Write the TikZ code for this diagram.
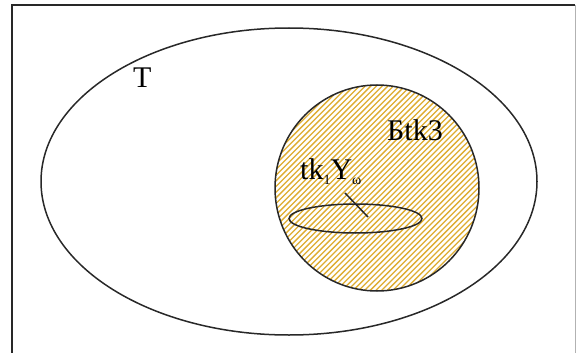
\documentclass[tikz,border=0pt]{standalone}
\usepackage{fontspec}
\setmainfont{Liberation Serif}
\definecolor{outline}{RGB}{40,40,40}
\definecolor{hatchgold}{RGB}{222,172,48}
\tikzset{
  shape line/.style={draw=outline, line width=1.5pt},
  label text/.style={inner sep=0pt, anchor=base west, font=\fontsize{30}{36}\selectfont, text=black},
  hatch line/.style={draw=hatchgold, line width=1.3pt},
}
\newcommand{\subtxt}[1]{\raisebox{-5pt}{\fontsize{14}{16}\selectfont #1}}
\begin{document}
\begin{tikzpicture}[x=1pt,y=-1pt]
\useasboundingbox (0,0) rectangle (576,353);
% hatched circle
\begin{scope}
  \clip (377,188) ellipse [x radius=102, y radius=103];
  \foreach \c in {355,360.66,...,780} {
    \draw[hatch line] (\c-300,300) -- (\c-75,75);
  }
\end{scope}
\draw[shape line] (377,188) ellipse [x radius=102, y radius=103];
% small ellipse
\draw[shape line] (355.5,218.5) ellipse [x radius=66.5, y radius=14.5];
% outer ellipse
\draw[shape line] (289,181.5) ellipse [x radius=248, y radius=153.5];
% frame
\draw[draw=outline, line width=1.8pt] (12,353) -- (12,5) -- (575,5);
\draw[draw=gray!60, line width=1pt] (575,5) -- (575,353);
% labels
\node[label text] (labT) at (133,88) {T};
\node[label text] (labB) at (387,140) {Бtk3};
\node[label text] (labY) at (300,179) {tk\subtxt{1}Y\subtxt{ω}};
% pointer
\coordinate (ptrA) at (345,193);
\coordinate (ptrB) at (368,217);
\draw[shape line] (ptrA) -- (ptrB);
\end{tikzpicture}
\end{document}
